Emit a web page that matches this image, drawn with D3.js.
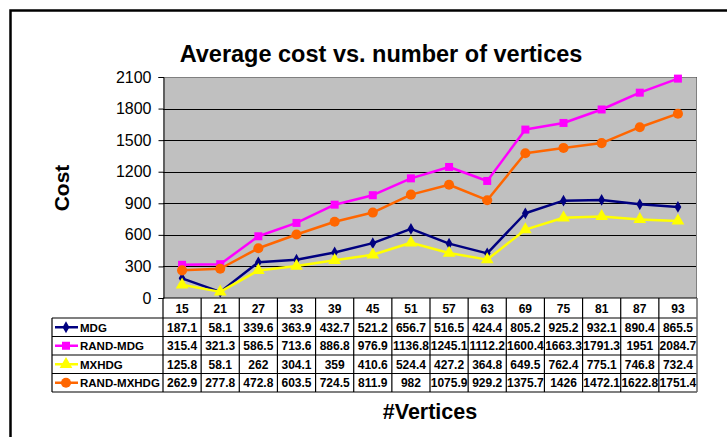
<!DOCTYPE html>
<html><head><meta charset="utf-8">
<script src="https://cdn.jsdelivr.net/npm/d3@7"></script>
<style>body{margin:0;background:#fff}svg{display:block}text{font-family:"Liberation Sans",Arial,sans-serif}</style>
</head><body>
<svg id="c" width="727" height="437"></svg>
<script>
const categories = ["15","21","27","33","39","45","51","57","63","69","75","81","87","93"];
const seriesNames = ["MDG","RAND-MDG","MXHDG","RAND-MXHDG"];
const mdg = [187.1,58.1,339.6,363.9,432.7,521.2,656.7,516.5,424.4,805.2,925.2,932.1,890.4,865.5];
const randMdg = [315.4,321.3,586.5,713.6,886.8,976.9,1136.8,1245.1,1112.2,1600.4,1663.3,1791.3,1951,2084.7];
const mxhdg = [125.8,58.1,262,304.1,359,410.6,524.4,427.2,364.8,649.5,762.4,775.1,746.8,732.4];
const randMxhdg = [262.9,277.8,472.8,603.5,724.5,811.9,982,1075.9,929.2,1375.7,1426,1472.1,1622.8,1751.4];
const yTicks = [0,300,600,900,1200,1500,1800,2100];
const colors = ["#000080","#FF00FF","#FFFF00","#FF6600"];
const symbols = [d3.symbolDiamond, d3.symbolSquare, d3.symbolTriangle, d3.symbolCircle];
const symSizes = [40, 64, 70, 80];
const seriesData = [mdg, randMdg, mxhdg, randMxhdg];

const svg = d3.select("#c");
const L = 163, R = 697, T = 77, B = 298;
const x = d3.scaleBand().domain(categories).range([L, R]);
const y = d3.scaleLinear().domain([0, 2100]).range([B, T]);

// outer frame
svg.append("rect").attr("x",10.5).attr("y",10.5).attr("width",760).attr("height",460)
  .attr("fill","none").attr("stroke","#000").attr("stroke-width",2.5);

// title
svg.append("text").attr("x",381).attr("y",62).attr("text-anchor","middle")
  .attr("font-size",23.5).attr("font-weight","bold").text("Average cost vs. number of vertices");

// plot area
svg.append("rect").attr("x",L).attr("y",T).attr("width",R-L).attr("height",B-T).attr("fill","#C0C0C0");
// gridlines
svg.append("g").selectAll("line").data(yTicks.filter(d=>d>0)).join("line")
  .attr("x1",L).attr("x2",R).attr("y1",d=>Math.round(y(d))+0.5).attr("y2",d=>Math.round(y(d))+0.5)
  .attr("stroke","#000").attr("stroke-width",1);
// plot border right/top
svg.append("path").attr("d",`M${L},${T+0.5}H${R-0.5}V${B}`).attr("fill","none").attr("stroke","#808080").attr("stroke-width",1);

// y axis
const yAxis = svg.append("g").attr("transform",`translate(${L+0.5},0)`)
  .call(d3.axisLeft(y).tickValues(yTicks).tickSize(5).tickPadding(7).tickFormat(d3.format("d")));
yAxis.select(".domain").attr("stroke","#000");
yAxis.selectAll("text").attr("font-size",16).attr("font-family","Liberation Sans, Arial, sans-serif").attr("fill","#000");
yAxis.selectAll(".tick line").attr("stroke","#000");

// y label
svg.append("text").attr("transform","translate(69,188) rotate(-90)").attr("text-anchor","middle")
  .attr("font-size",21).attr("font-weight","bold").text("Cost");

// lines
const line = d3.line().x((d,i)=>x(categories[i])+x.bandwidth()/2).y(d=>y(d));
seriesData.forEach((vals,s)=>{
  svg.append("path").datum(vals).attr("d",line).attr("fill","none")
    .attr("stroke",colors[s]).attr("stroke-width",2.5).attr("stroke-linejoin","round");
});
seriesData.forEach((vals,s)=>{
  svg.append("g").selectAll("path").data(vals).join("path")
    .attr("d",d3.symbol().type(symbols[s]).size(symSizes[s]))
    .attr("transform",(d,i)=>`translate(${x(categories[i])+x.bandwidth()/2},${y(d)})`)
    .attr("fill",colors[s]);
});

// data table
const rowTop = B, headerH = 20, rowH = 18.5, tableLeft = 52;
const tbl = svg.append("g");
const nRows = seriesNames.length;
const tableBottom = rowTop + headerH + nRows*rowH;
tbl.append("line").attr("x1",L).attr("x2",R).attr("y1",B).attr("y2",B).attr("stroke","#000").attr("stroke-width",1.2);
for(let r=0;r<=nRows;r++){
  const yy = rowTop+headerH+r*rowH;
  tbl.append("line").attr("x1",tableLeft).attr("x2",R).attr("y1",yy).attr("y2",yy).attr("stroke","#000").attr("stroke-width",1.2);
}
categories.forEach((c,i)=>{
  tbl.append("line").attr("x1",x(c)).attr("x2",x(c)).attr("y1",rowTop).attr("y2",tableBottom).attr("stroke","#000").attr("stroke-width",1.2);
});
tbl.append("line").attr("x1",R).attr("x2",R).attr("y1",rowTop).attr("y2",tableBottom).attr("stroke","#666").attr("stroke-width",1.5);
tbl.append("line").attr("x1",tableLeft).attr("x2",tableLeft).attr("y1",rowTop+headerH).attr("y2",tableBottom).attr("stroke","#000").attr("stroke-width",1.2);
tbl.selectAll("text.h").data(categories).join("text").attr("class","h")
  .attr("x",d=>x(d)+x.bandwidth()/2).attr("y",rowTop+headerH/2+4.5).attr("text-anchor","middle")
  .attr("font-size",12).attr("font-weight","bold").text(d=>d);
seriesData.forEach((vals,s)=>{
  const cy = rowTop+headerH+s*rowH+rowH/2;
  tbl.append("line").attr("x1",55).attr("x2",78).attr("y1",cy).attr("y2",cy).attr("stroke",colors[s]).attr("stroke-width",2.5);
  tbl.append("path").attr("d",d3.symbol().type(symbols[s]).size(symSizes[s]))
    .attr("transform",`translate(66,${cy})`).attr("fill",colors[s]);
  tbl.append("text").attr("x",80).attr("y",cy+4.5).attr("font-size",11.5).attr("font-weight","bold").text(seriesNames[s]);
  tbl.append("g").selectAll("text").data(vals).join("text")
    .attr("x",(d,i)=>x(categories[i])+x.bandwidth()/2).attr("y",cy+4.5).attr("text-anchor","middle")
    .attr("font-size",12).attr("font-weight","bold").text(d=>d);
});

// x label
svg.append("text").attr("x",430).attr("y",419).attr("text-anchor","middle")
  .attr("font-size",21.5).attr("font-weight","bold").text("#Vertices");
</script>
</body></html>
